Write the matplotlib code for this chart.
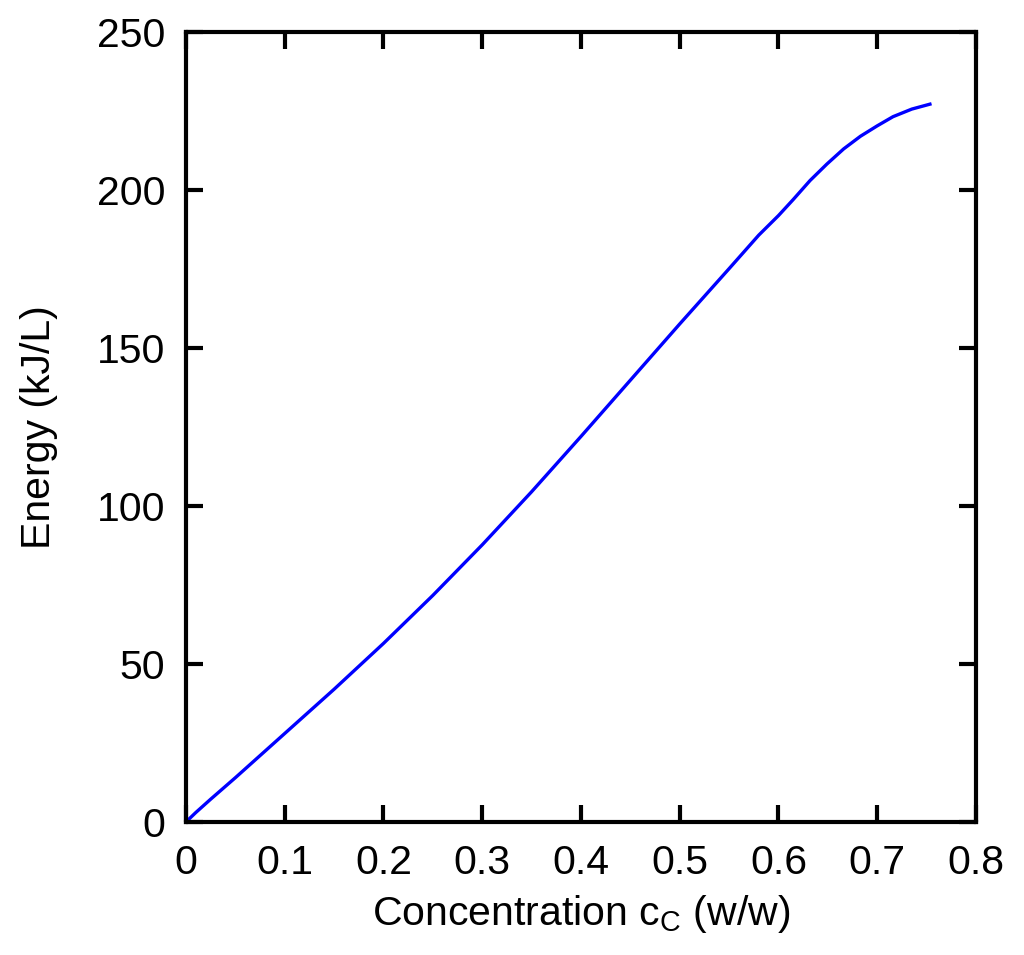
import matplotlib
matplotlib.use("Agg")
import matplotlib.pyplot as plt

conc = [0.0, 0.01, 0.025, 0.05, 0.10, 0.15, 0.20, 0.25, 0.30, 0.35, 0.40, 0.45,
        0.50, 0.55, 0.58, 0.60, 0.615, 0.632, 0.649, 0.666, 0.683, 0.70, 0.716,
        0.735, 0.755]
energy = [0.0, 3.0, 7.2, 14.0, 28.0, 42.0, 56.5, 71.7, 87.7, 104.5, 122.0, 139.8,
          157.6, 175.1, 185.7, 191.9, 197.0, 203.0, 208.2, 213.0, 217.0, 220.3, 223.2,
          225.6, 227.3]

xticks = [0, 0.1, 0.2, 0.3, 0.4, 0.5, 0.6, 0.7, 0.8]
xticklabels = ["0", "0.1", "0.2", "0.3", "0.4", "0.5", "0.6", "0.7", "0.8"]
yticks = [0, 50, 100, 150, 200, 250]

plt.rcParams['font.family'] = ['Liberation Sans', 'DejaVu Sans']
plt.rcParams['mathtext.fontset'] = 'custom'
plt.rcParams['mathtext.rm'] = 'Liberation Sans'
plt.rcParams['mathtext.it'] = 'Liberation Sans'

fig = plt.figure(figsize=(10.24, 9.55), dpi=100)
ax = fig.add_axes([0.1816, 0.1393, 0.7715, 0.8272])
ax.plot(conc, energy, color=(0, 0, 1), lw=2.4, solid_joinstyle='round',
        solid_capstyle='butt')
ax.set_xlim(0, 0.8)
ax.set_ylim(0, 250)
ax.set_xticks(xticks)
ax.set_xticklabels(xticklabels)
ax.set_yticks(yticks)
for s in ax.spines.values():
    s.set_linewidth(3.0)
ax.tick_params(direction='in', length=12, width=3.0, labelsize=29.5,
               top=True, right=True)
ax.tick_params(axis='x', pad=16)
ax.tick_params(axis='y', pad=15)
ax.set_xlabel(r"Concentration c$_\mathregular{C}$ (w/w)", fontsize=29.5, labelpad=8)
ax.set_ylabel("Energy (kJ/L)", fontsize=29.5, labelpad=28)
fig.savefig("out.png", dpi=100, facecolor='white')
